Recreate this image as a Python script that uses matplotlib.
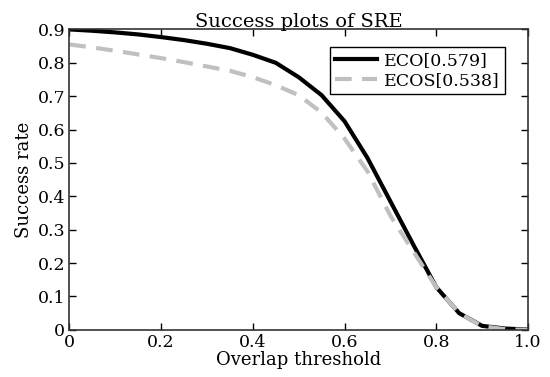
import numpy as np
import matplotlib
matplotlib.use('Agg')
import matplotlib.pyplot as plt

# overlap thresholds and success rates
thresholds = [0.0, 0.05, 0.1, 0.15, 0.2, 0.25, 0.3, 0.35, 0.4, 0.45, 0.5,
              0.55, 0.6, 0.65, 0.7, 0.75, 0.8, 0.85, 0.9, 0.95, 1.0]
eco = [0.900, 0.896, 0.891, 0.885, 0.877, 0.868, 0.857, 0.844, 0.824, 0.800, 0.757,
       0.703, 0.625, 0.515, 0.385, 0.255, 0.128, 0.050, 0.012, 0.004, 0.001]
ecos = [0.855, 0.846, 0.836, 0.825, 0.814, 0.802, 0.789, 0.776, 0.757, 0.733, 0.703,
        0.651, 0.573, 0.475, 0.342, 0.235, 0.128, 0.050, 0.011, 0.002, 0.0]
labels = ['ECO[0.579]', 'ECOS[0.538]']

plt.rcParams['font.family'] = ['DejaVu Serif']
plt.rcParams['font.size'] = 12

fig = plt.figure(figsize=(5.5, 3.77), dpi=100)
ax = fig.add_axes([0.126, 0.125, 0.834, 0.797])

ax.plot(thresholds, eco, color='black', lw=3, label=labels[0])
ax.plot(thresholds, ecos, color='#c0c0c0', lw=3, dashes=(4, 2.5), label=labels[1])

ax.set_xlim(0, 1)
ax.set_ylim(0, 0.9)
ax.set_xticks([0, 0.2, 0.4, 0.6, 0.8, 1.0])
ax.set_xticklabels(['0', '0.2', '0.4', '0.6', '0.8', '1.0'], fontsize=12.5)
ax.set_yticks(np.arange(0, 0.91, 0.1))
ax.set_yticklabels(['0'] + ['%.1f' % v for v in np.arange(0.1, 0.91, 0.1)], fontsize=12.5)
ax.tick_params(direction='in', top=True, right=True, length=5, width=1, pad=3)
for s in ax.spines.values():
    s.set_linewidth(1.2)
    s.set_color('#333333')

ax.set_xlabel('Overlap threshold', fontsize=13, labelpad=0)
ax.set_ylabel('Success rate', fontsize=13, labelpad=3)
ax.set_title('Success plots of SRE', fontsize=14, pad=2)

leg = ax.legend(loc='upper right', fancybox=False, edgecolor='black',
                framealpha=1, handlelength=2.4, handletextpad=0.4,
                borderpad=0.3, labelspacing=0.15, fontsize=12.5,
                bbox_to_anchor=(0.968, 0.97))
leg.get_frame().set_linewidth(1)

fig.savefig('out.png', dpi=100)
